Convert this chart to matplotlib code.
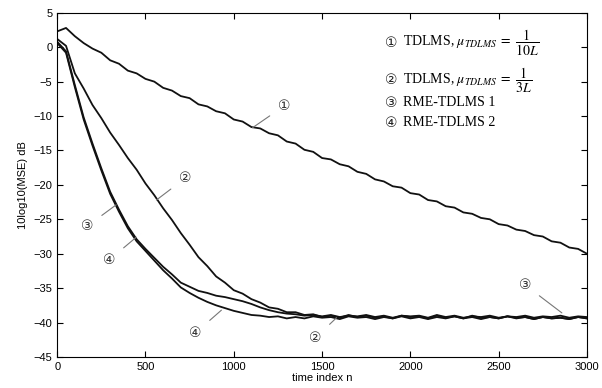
import matplotlib
matplotlib.use('Agg')
import matplotlib.pyplot as plt
import numpy as np

n = np.arange(0, 3001, 50)

tdlms_10L = [2.3, 2.8, 1.6, 0.6, -0.2, -0.8, -1.9, -2.4, -3.4, -3.8,
             -4.6, -5.0, -5.9, -6.3, -7.1, -7.4, -8.3, -8.6, -9.3, -9.6,
             -10.5, -10.8, -11.6, -11.8, -12.5, -12.8, -13.7, -14.0, -14.9, -15.2,
             -16.1, -16.3, -17.0, -17.3, -18.1, -18.4, -19.2, -19.5, -20.2, -20.4,
             -21.2, -21.4, -22.2, -22.4, -23.1, -23.3, -24.0, -24.2, -24.8, -25.0,
             -25.7, -25.9, -26.5, -26.7, -27.3, -27.5, -28.2, -28.4, -29.1, -29.3,
             -30.0]

tdlms_3L = [1.2, 0.2, -3.8, -6.0, -8.4, -10.3, -12.4, -14.2, -16.1, -17.8,
            -19.8, -21.5, -23.4, -25.1, -27.0, -28.7, -30.5, -31.8, -33.3, -34.2,
            -35.3, -35.8, -36.6, -37.1, -37.8, -38.0, -38.5, -38.5, -38.9, -38.8,
            -39.2, -39.0, -39.3, -38.9, -39.2, -39.0, -39.3, -39.1, -39.4, -39.0,
            -39.2, -39.1, -39.4, -39.0, -39.3, -39.1, -39.4, -39.0, -39.3, -39.2,
            -39.4, -39.1, -39.3, -39.2, -39.5, -39.2, -39.4, -39.3, -39.5, -39.2,
            -39.4]

rme_1 = [0.8, -0.6, -5.5, -10.2, -14.0, -17.6, -21.0, -23.6, -26.0, -27.9,
         -29.3, -30.6, -31.9, -33.0, -34.2, -34.8, -35.4, -35.7, -36.1, -36.3,
         -36.6, -36.9, -37.3, -37.8, -38.2, -38.5, -38.7, -38.8, -39.0, -38.9,
         -39.1, -38.9, -39.2, -39.0, -39.1, -38.9, -39.2, -39.0, -39.3, -39.0,
         -39.1, -39.0, -39.3, -38.9, -39.2, -39.0, -39.3, -39.1, -39.2, -39.0,
         -39.3, -39.1, -39.2, -39.0, -39.3, -39.1, -39.2, -39.0, -39.3, -39.1,
         -39.2]

rme_2 = [0.6, -0.8, -5.8, -10.5, -14.3, -17.9, -21.3, -23.9, -26.3, -28.2,
         -29.6, -31.0, -32.4, -33.6, -34.9, -35.7, -36.4, -37.0, -37.5, -37.9,
         -38.3, -38.6, -38.9, -39.0, -39.2, -39.1, -39.4, -39.2, -39.4, -39.1,
         -39.3, -39.2, -39.5, -39.1, -39.3, -39.2, -39.5, -39.2, -39.4, -39.1,
         -39.4, -39.2, -39.5, -39.2, -39.4, -39.1, -39.4, -39.2, -39.5, -39.2,
         -39.4, -39.1, -39.4, -39.2, -39.5, -39.2, -39.4, -39.3, -39.5, -39.2,
         -39.4]

## callouts: (label, text position, point on curve)
callouts = [('①', (1287, -8.5), (1106, -11.7)),
            ('②', (726, -19.0), (562, -22.2)),
            ('③', (170, -26.0), (334, -22.9)),
            ('④', (295, -30.9), (448, -27.6)),
            ('④', (783, -41.5), (930, -38.2)),
            ('②', (1463, -42.2), (1582, -39.3)),
            ('③', (2648, -34.5), (2858, -38.6))]

legend_marks = ['①', '②', '③', '④']
legend_texts = [r'TDLMS, $\mu_{TDLMS}\ =\ \dfrac{1}{10L}$',
                r'TDLMS, $\mu_{TDLMS}\ =\ \dfrac{1}{3L}$',
                'RME-TDLMS 1',
                'RME-TDLMS 2']

plt.rcParams['font.family'] = ['Liberation Sans', 'DejaVu Sans']
plt.rcParams['mathtext.fontset'] = 'stix'

fig = plt.figure(figsize=(6.02, 3.88), dpi=100)
ax = fig.add_axes([0.095, 0.080, 0.880, 0.887])

for y in (tdlms_10L, tdlms_3L, rme_1, rme_2):
    ax.plot(n, y, color='#111111', lw=1.3)

for lab, txt, pt in callouts:
    ax.annotate(lab, xy=pt, xytext=txt, ha='center', va='center',
                fontsize=10, color='#333333', family=['DejaVu Sans'],
                arrowprops=dict(arrowstyle='-', color='#777777', lw=0.8,
                                shrinkA=5, shrinkB=0))

## legend drawn as plain text, as in the original
for mark, s, yy in zip(legend_marks, legend_texts, [0.913, 0.805, 0.738, 0.680]):
    ax.text(0.619, yy, mark, transform=ax.transAxes, fontsize=10, va='center',
            family=['DejaVu Sans'], color='#222222')
    ax.text(0.652, yy, s, transform=ax.transAxes, fontsize=10, va='center',
            family=['Liberation Serif'])

ax.set_xlim(0, 3000)
ax.set_ylim(-45, 5)
ax.set_xticks(np.arange(0, 3001, 500))
ax.set_yticks(np.arange(-45, 6, 5))
ax.tick_params(direction='in', top=True, right=True, length=4, labelsize=8)
ax.set_xlabel('time index n', fontsize=8, labelpad=1)
ax.set_ylabel('10log10(MSE) dB', fontsize=8, labelpad=4)
for sp in ax.spines.values():
    sp.set_linewidth(0.8)

fig.savefig('out.png', dpi=100)
